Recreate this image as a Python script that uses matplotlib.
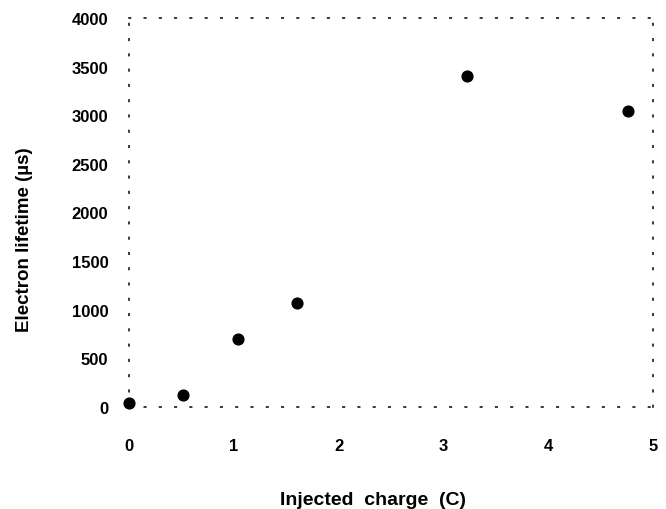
import matplotlib.pyplot as plt

# Data
charge = [0.0, 0.51, 1.04, 1.60, 3.23, 4.76]
lifetime = [40, 120, 700, 1070, 3400, 3040]
xticks = [0, 1, 2, 3, 4, 5]
yticks = [0, 500, 1000, 1500, 2000, 2500, 3000, 3500, 4000]

plt.rcParams['font.family'] = ['Liberation Sans', 'DejaVu Sans']

fig = plt.figure(figsize=(6.66, 5.1), dpi=100)
ax = fig.add_axes([0.194, 0.2, 0.786, 0.763])

ax.scatter(charge, lifetime, s=60, color='black', zorder=3, clip_on=False)

ax.set_xlim(0, 5)
ax.set_ylim(0, 4000)
ax.set_xticks(xticks)
ax.set_yticks(yticks)
ax.set_xticklabels([str(t) for t in xticks], fontsize=12, fontweight='bold')
ax.set_yticklabels([str(t) for t in yticks], fontsize=12, fontweight='bold')
ax.tick_params(axis='x', length=0, pad=22)
ax.tick_params(axis='y', length=0, pad=15)

for s in ax.spines.values():
    s.set_linestyle((0, (1, 9)))
    s.set_linewidth(1.1)
    s.set_color('black')

fig.text(0.56, 0.018, 'Injected  charge  (C)', fontsize=14, fontweight='bold', ha='center', va='center')
ax.set_ylabel('Electron lifetime (\u00b5s)', fontsize=13.5, fontweight='bold')
ax.yaxis.set_label_coords(-0.184, 0.432)

fig.savefig('out.png', dpi=100)
